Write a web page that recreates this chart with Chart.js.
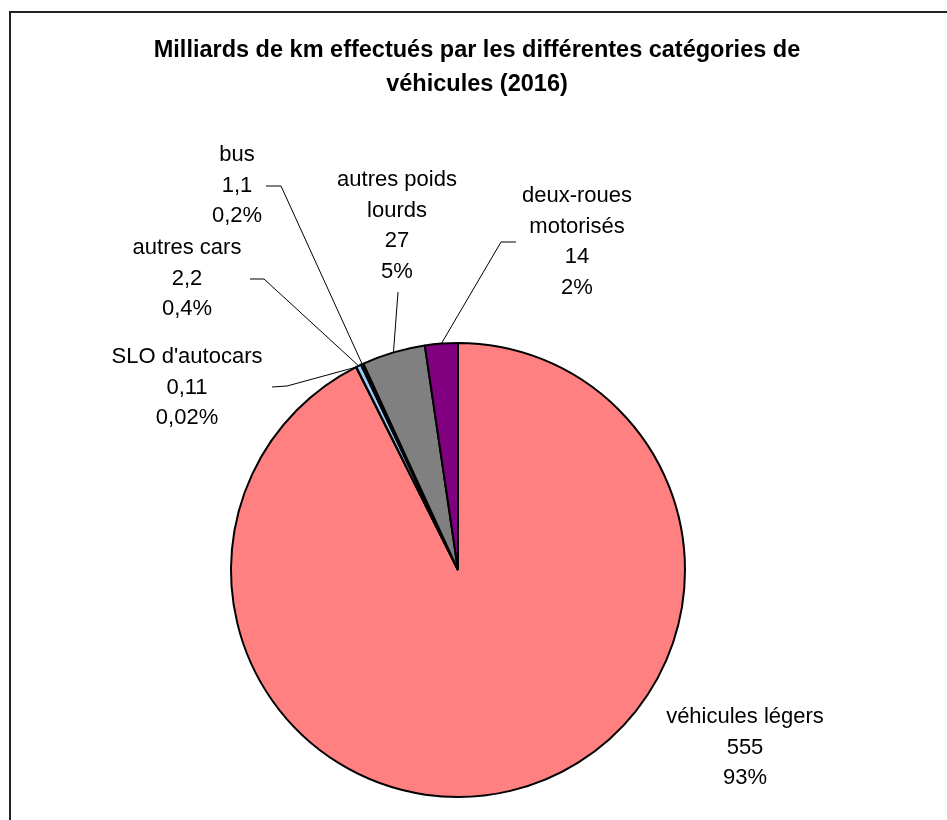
<!DOCTYPE html>
<html>
<head>
<meta charset="utf-8">
<script src="https://cdn.jsdelivr.net/npm/chart.js@4.4.1/dist/chart.umd.min.js"></script>
<style>
  html, body { margin: 0; padding: 0; background: #fff; }
  #wrap { width: 947px; height: 820px; }
</style>
</head>
<body>
<div id="wrap"><canvas id="pieChart" width="947" height="820"></canvas></div>
<script>
// Données (milliards de km, 2016) – dans l'ordre horaire à partir de midi
const categories = [
  ['véhicules légers'],
  ["SLO d'autocars"],
  ['autres cars'],
  ['bus'],
  ['autres poids', 'lourds'],
  ['deux-roues', 'motorisés']
];
const values = [555, 0.11, 2.2, 1.1, 27, 14];
const sliceColors = ['#FF8080', '#FF8080', '#99CCFF', '#1a1a1a', '#808080', '#800080'];

const titleLines = [
  'Milliards de km effectués par les différentes catégories de',
  'véhicules (2016)'
];

// placement des étiquettes : centre du texte, y de la 1re ligne, coude du trait de rappel
const labelLayout = [
  { x: 745, y: 717, leader: null },
  { x: 187, y: 357, leader: [[272, 387], [287, 386]] },
  { x: 187, y: 248, leader: [[250, 279], [264, 279]] },
  { x: 237, y: 155, leader: [[266, 186], [281, 186]] },
  { x: 397, y: 180, leader: [[398, 292]] },
  { x: 577, y: 196, leader: [[516, 242], [501, 242]] }
];

const FONT = '"Liberation Sans", Arial, sans-serif';
const LINE_H = 30.5;

const fmtValue = v => String(v).replace('.', ',');
const fmtPct = (v, total) => {
  const p = v / total * 100;
  if (p >= 1) return Math.round(p) + '%';
  return String(Number(p.toPrecision(1))).replace('.', ',') + '%';
};

const framePlugin = {
  id: 'frame',
  beforeDraw(chart) {
    const ctx = chart.ctx;
    ctx.save();
    ctx.fillStyle = '#ffffff';
    ctx.fillRect(0, 0, chart.width, chart.height);
    ctx.strokeStyle = '#222222';
    ctx.lineWidth = 2;
    ctx.strokeRect(10, 12, chart.width + 20, chart.height + 20);
    ctx.restore();
  }
};

const titlePlugin = {
  id: 'titleText',
  afterDraw(chart) {
    const ctx = chart.ctx;
    ctx.save();
    ctx.fillStyle = '#000';
    ctx.font = 'bold 23.5px ' + FONT;
    ctx.textAlign = 'center';
    ctx.textBaseline = 'alphabetic';
    titleLines.forEach((t, i) => ctx.fillText(t, 477, 57 + i * 34));
    ctx.restore();
  }
};

const labelPlugin = {
  id: 'pieLabels',
  afterDatasetsDraw(chart) {
    const ctx = chart.ctx;
    const meta = chart.getDatasetMeta(0);
    const data = chart.data.datasets[0].data;
    const total = data.reduce((a, b) => a + b, 0);
    ctx.save();
    meta.data.forEach((arc, i) => {
      const p = arc.getProps(['x', 'y', 'startAngle', 'endAngle', 'outerRadius'], true);
      const mid = (p.startAngle + p.endAngle) / 2;
      const ex = p.x + Math.cos(mid) * p.outerRadius;
      const ey = p.y + Math.sin(mid) * p.outerRadius;
      const lay = labelLayout[i];
      if (lay.leader) {
        ctx.beginPath();
        ctx.strokeStyle = '#000';
        ctx.lineWidth = 1;
        lay.leader.forEach((pt, k) => k === 0 ? ctx.moveTo(pt[0], pt[1]) : ctx.lineTo(pt[0], pt[1]));
        ctx.lineTo(ex, ey);
        ctx.stroke();
      }
      const lines = [...chart.data.labels[i], fmtValue(data[i]), fmtPct(data[i], total)];
      ctx.fillStyle = '#000';
      ctx.font = '22px ' + FONT;
      ctx.textAlign = 'center';
      ctx.textBaseline = 'middle';
      lines.forEach((t, k) => ctx.fillText(t, lay.x, lay.y + k * LINE_H));
    });
    ctx.restore();
  }
};

new Chart(document.getElementById('pieChart'), {
  type: 'pie',
  data: {
    labels: categories,
    datasets: [{
      data: values,
      backgroundColor: sliceColors,
      borderColor: '#000000',
      borderWidth: 2
    }]
  },
  options: {
    responsive: false,
    animation: false,
    layout: { padding: { left: 230, right: 261, top: 342, bottom: 22 } },
    plugins: {
      legend: { display: false },
      tooltip: { enabled: false },
      title: { display: false }
    }
  },
  plugins: [framePlugin, titlePlugin, labelPlugin]
});
</script>
</body>
</html>
